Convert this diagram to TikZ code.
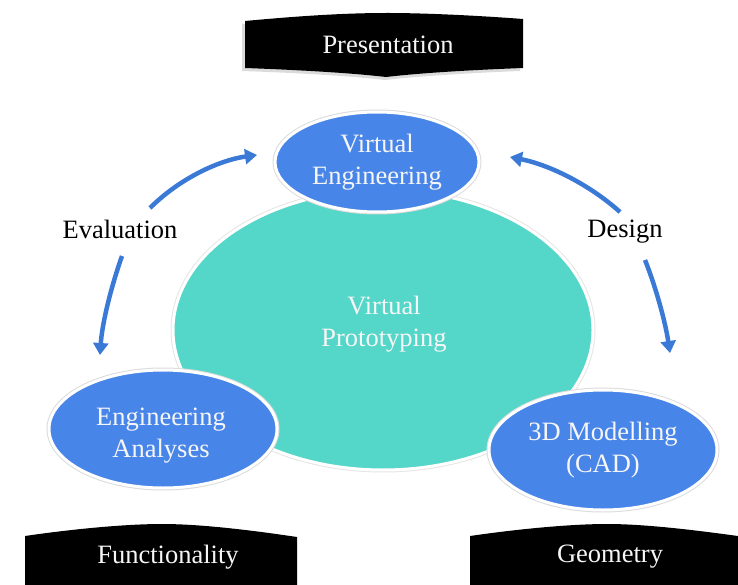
\documentclass[tikz,border=0pt]{standalone}
\usepackage{fontspec}
\setmainfont{Liberation Serif}
\usetikzlibrary{shapes.geometric,arrows.meta}
\definecolor{bubbleblue}{RGB}{72,133,232}
\definecolor{coreteal}{RGB}{84,214,200}
\definecolor{flowblue}{RGB}{58,122,214}
\definecolor{softwhite}{RGB}{246,246,246}
\tikzset{
  txt/.style={font=\fontsize{26.5}{32}\selectfont, align=center, inner sep=0pt},
  bubble/.style={ellipse, fill=bubbleblue, draw=white, line width=3pt,
    preaction={draw=black!14, line width=5pt},
    text=softwhite, txt},
  core/.style={ellipse, fill=coreteal, draw=white, line width=3pt,
    preaction={draw=black!10, line width=5pt}},
  intext/.style={txt, text=softwhite},
  banner/.style={fill=black},
  bannershadow/.style={fill=black!14},
  flow/.style={draw=flowblue, line width=4.5pt,
    -{Triangle[length=12pt,width=15pt]}},
  plain/.style={txt, text=black}
}
\begin{document}
\begin{tikzpicture}[x=1pt,y=-1pt]
\useasboundingbox (0,0) rectangle (738,585);

% central ellipse and the three satellites
\node[core, minimum width=420pt, minimum height=280pt] (vp) at (383,330) {};
\node[intext] (vptext) at (384,324) {Virtual\\Prototyping};
\node[bubble, minimum width=204pt, minimum height=100pt] (ve) at (377,162) {Virtual\\Engineering};
\node[bubble, minimum width=228pt, minimum height=118pt] (ea) at (163,429) {};
\node[intext] (eatext) at (161,436) {Engineering\\Analyses};
\node[bubble, minimum width=228pt, minimum height=120pt] (cad) at (603,450) {3D Modelling\\(CAD)};

% top banner
\fill[bannershadow] (242,24) .. controls (320,17) and (360,16) .. (386,16)
  .. controls (420,16) and (470,18) .. (520,22) -- (520,71)
  .. controls (470,73) and (420,76) .. (385,80)
  .. controls (350,76) and (300,73) .. (242,71) -- cycle;
\fill[banner] (245,21) .. controls (320,14) and (360,13) .. (388,13)
  .. controls (420,13) and (470,15) .. (523,19) -- (523,68)
  .. controls (470,70) and (420,73) .. (386,77)
  .. controls (352,73) and (300,70) .. (245,68) -- cycle;
\node[intext] (pres) at (388,45) {Presentation};

% bottom banners
\fill[banner] (25,536) .. controls (80,528) and (130,524) .. (162,524)
  .. controls (200,524) and (250,530) .. (297,537) -- (297,585) -- (25,585) -- cycle;
\node[intext] (func) at (168,557) {Functionality};

\fill[banner] (470,536) .. controls (525,528) and (575,524) .. (607,524)
  .. controls (645,524) and (695,530) .. (745,537) -- (745,585) -- (470,585) -- cycle;
\node[intext] (geo) at (610,557) {Geometry};

% side labels
\node[plain] (eval) at (120,229) {Evaluation};
\node[plain] (des) at (625,232) {Design};

% arrow ends
\coordinate (evalup) at (150,208);
\coordinate (evaldown) at (122,256);
\coordinate (desup) at (620,212);
\coordinate (desdown) at (645,260);
\coordinate (vein) at (257,155);
\coordinate (veinr) at (510,157);
\coordinate (eain) at (100,355);
\coordinate (cadin) at (670,353);

\draw[flow] (evalup) .. controls (180,178) and (220,160) .. (vein);
\draw[flow] (evaldown) .. controls (110,290) and (102,325) .. (eain);
\draw[flow] (desup) .. controls (590,185) and (550,165) .. (veinr);
\draw[flow] (desdown) .. controls (655,285) and (665,320) .. (cadin);
\end{tikzpicture}
\end{document}
